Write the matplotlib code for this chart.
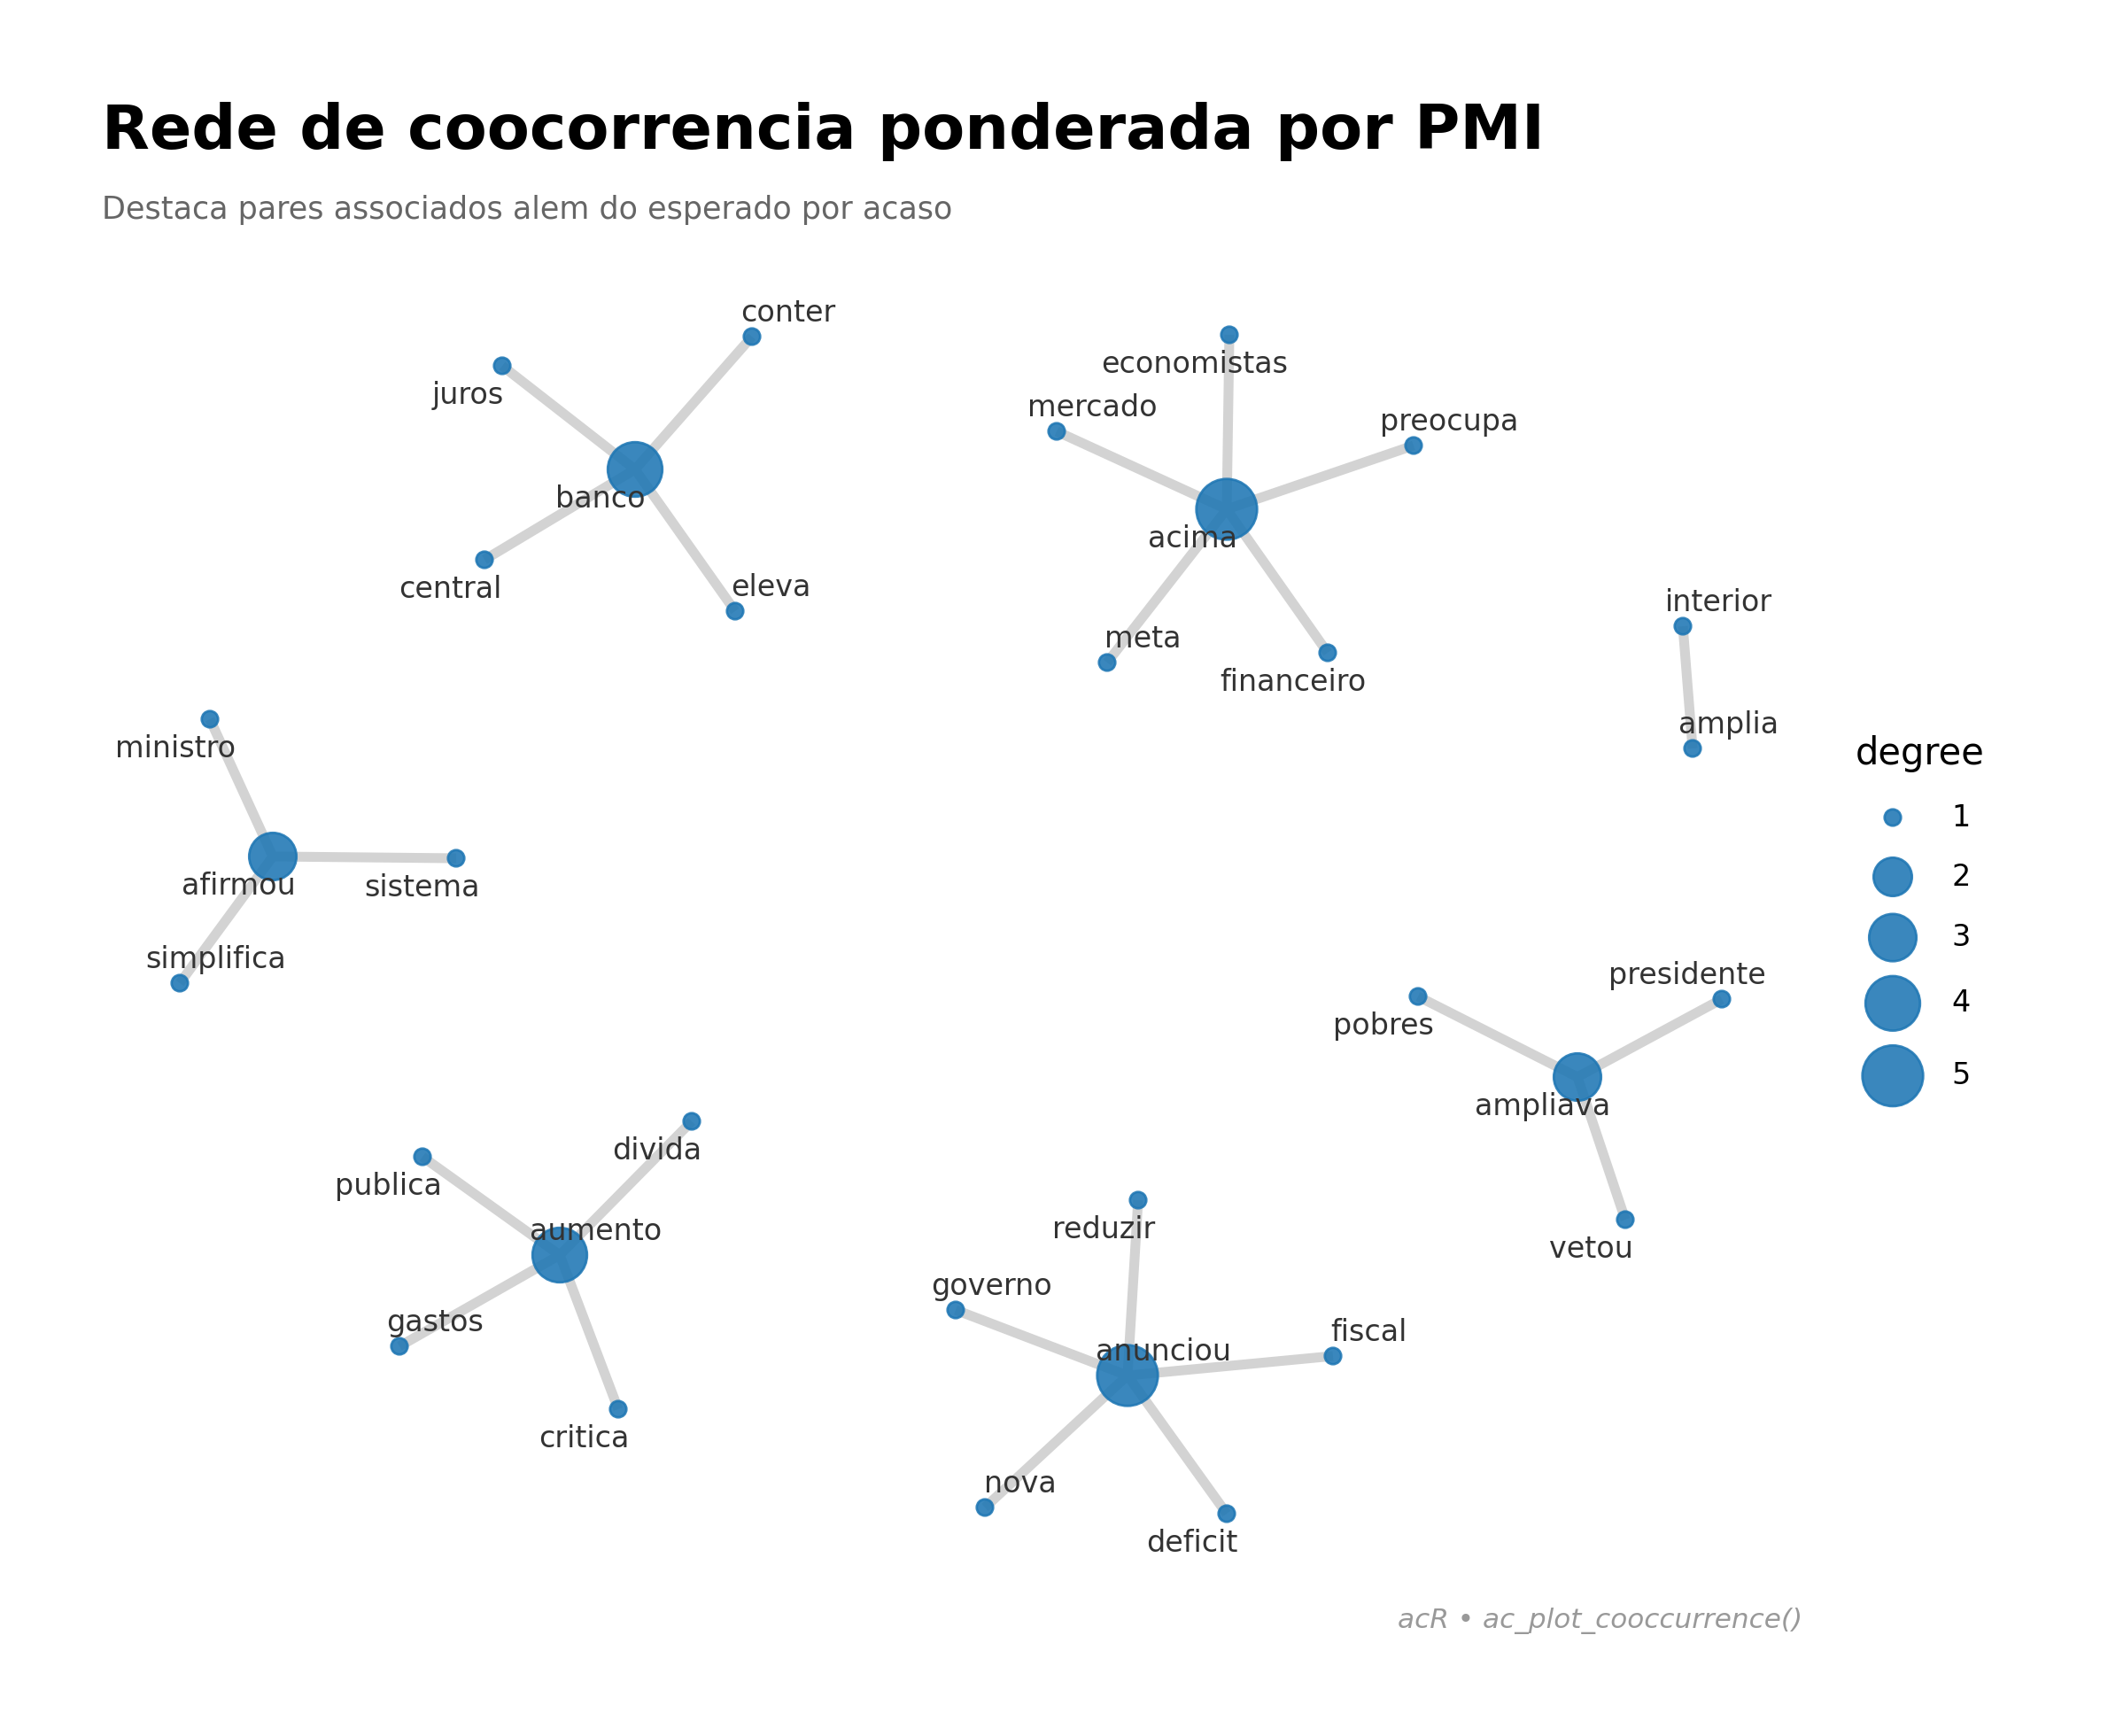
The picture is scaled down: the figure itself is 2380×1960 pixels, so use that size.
import matplotlib.pyplot as plt
import numpy as np

# node layout (pixel space, y grows downward)
nodes = ['banco', 'juros', 'conter', 'central', 'eleva',
         'acima', 'economistas', 'mercado', 'preocupa', 'meta', 'financeiro',
         'interior', 'amplia',
         'afirmou', 'ministro', 'sistema', 'simplifica',
         'ampliava', 'pobres', 'presidente', 'vetou',
         'aumento', 'publica', 'divida', 'gastos', 'critica',
         'anunciou', 'reduzir', 'governo', 'fiscal', 'nova', 'deficit']
node_x = [717, 567, 849, 547, 830,
          1385, 1388, 1193, 1596, 1250, 1499,
          1900, 1911,
          308, 237, 515, 203,
          1781, 1601, 1944, 1835,
          632, 477, 781, 451, 698,
          1273, 1285, 1079, 1505, 1112, 1385]
node_y = [530, 413, 380, 632, 690,
          575, 378, 487, 503, 748, 737,
          707, 845,
          967, 812, 969, 1110,
          1216, 1125, 1128, 1377,
          1417, 1306, 1266, 1520, 1591,
          1553, 1355, 1479, 1531, 1702, 1709]

edges = [('banco', 'juros'), ('banco', 'conter'), ('banco', 'central'), ('banco', 'eleva'),
         ('acima', 'economistas'), ('acima', 'mercado'), ('acima', 'preocupa'),
         ('acima', 'meta'), ('acima', 'financeiro'),
         ('interior', 'amplia'),
         ('afirmou', 'ministro'), ('afirmou', 'sistema'), ('afirmou', 'simplifica'),
         ('ampliava', 'pobres'), ('ampliava', 'presidente'), ('ampliava', 'vetou'),
         ('aumento', 'publica'), ('aumento', 'divida'), ('aumento', 'gastos'), ('aumento', 'critica'),
         ('anunciou', 'reduzir'), ('anunciou', 'governo'), ('anunciou', 'fiscal'),
         ('anunciou', 'nova'), ('anunciou', 'deficit')]

# label placement: LB = left-below, RA = right-above, LA = left-above
label_side = {'banco': 'LB', 'juros': 'LB', 'conter': 'RA', 'central': 'LB', 'eleva': 'RA',
              'acima': 'LB', 'economistas': 'LB', 'mercado': 'RA', 'preocupa': 'RA',
              'meta': 'RA', 'financeiro': 'LB', 'interior': 'RA', 'amplia': 'RA',
              'afirmou': 'LB', 'ministro': 'LB', 'sistema': 'LB', 'simplifica': 'RA',
              'ampliava': 'LB', 'pobres': 'LB', 'presidente': 'LA', 'vetou': 'LB',
              'aumento': 'RA', 'publica': 'LB', 'divida': 'LB', 'gastos': 'RA', 'critica': 'LB',
              'anunciou': 'RA', 'reduzir': 'LB', 'governo': 'RA', 'fiscal': 'RA',
              'nova': 'RA', 'deficit': 'LB'}
side_offset = {'LB': (-14, -12.2), 'RA': (14.5, 9.5), 'LA': (-14, 9.5)}

size_map = {1: 44, 2: 243, 3: 369, 4: 491, 5: 609}
BLUE = '#1f77b4'

pos = {n: (x, y) for n, x, y in zip(nodes, node_x, node_y)}
degree = {n: 0 for n in nodes}
for a, b in edges:
    degree[a] += 1
    degree[b] += 1

fig = plt.figure(figsize=(11.9, 9.8), dpi=200)
ax = fig.add_axes([0, 0, 1, 1])
ax.set_xlim(0, 2380)
ax.set_ylim(1960, 0)
ax.axis('off')

for a, b in edges:
    ax.plot([pos[a][0], pos[b][0]], [pos[a][1], pos[b][1]],
            color='#d3d3d3', lw=4, solid_capstyle='butt', zorder=1)

sizes = [size_map[degree[n]] for n in nodes]
ax.scatter(node_x, node_y, s=sizes, color=BLUE, alpha=0.88,
           edgecolors=BLUE, linewidths=1, zorder=2)

for n in nodes:
    ax.annotate(n, pos[n], xytext=side_offset[label_side[n]],
                textcoords='offset points', ha='center', va='center',
                fontsize=12, color='#333333', zorder=3)

# titles
fig.text(115 / 2380, 1 - 168 / 1960, 'Rede de coocorrencia ponderada por PMI',
         fontsize=25.2, fontweight='bold', va='baseline', ha='left')
fig.text(115 / 2380, 1 - 247 / 1960, 'Destaca pares associados alem do esperado por acaso',
         fontsize=12.6, color='#666666', va='baseline', ha='left')
fig.text(2035 / 2380, 1 - 1838 / 1960, 'acR \u2022 ac_plot_cooccurrence()',
         fontsize=11.2, style='italic', color='#999999', va='baseline', ha='right')

# size legend (rows grow with key size, like ggplot)
ax.text(2095, 863, 'degree', fontsize=15, va='baseline', ha='left')
levels = sorted(size_map)
heights = [max(67, (np.sqrt(size_map[k]) + 1) * 200 / 72 + 14) for k in levels]
row_y = [923]
for i in range(1, len(levels)):
    row_y.append(row_y[-1] + (heights[i - 1] + heights[i]) / 2)
ax.scatter([2137] * len(levels), row_y, s=[size_map[k] for k in levels],
           color=BLUE, alpha=0.88, edgecolors=BLUE, linewidths=1, zorder=2)
for k, yy in zip(levels, row_y):
    ax.text(2203, yy, str(k), fontsize=12, va='center', ha='left')

fig.savefig('out.png', dpi=200, facecolor='white')
